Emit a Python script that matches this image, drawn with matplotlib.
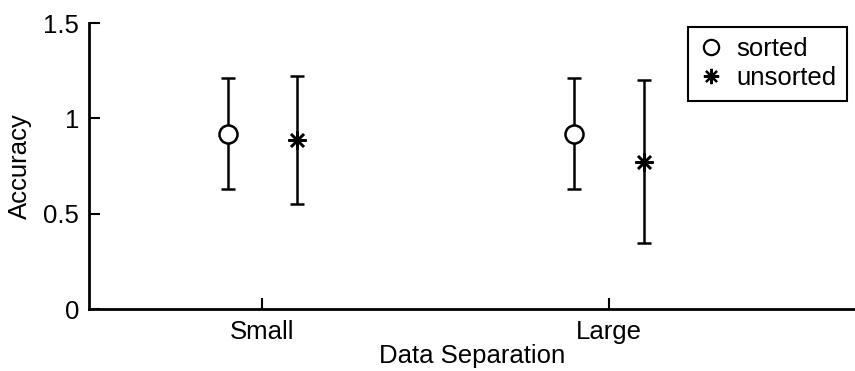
import matplotlib
matplotlib.use('Agg')

import matplotlib.pyplot as plt
from matplotlib.lines import Line2D

# Data
categories = ['Small', 'Large']
sorted_mean = [0.92, 0.92]
sorted_err = [0.29, 0.29]
unsorted_mean = [0.887, 0.772]
unsorted_err = [0.335, 0.428]

plt.rcParams['font.family'] = ['Liberation Sans', 'DejaVu Sans']
plt.rcParams['font.size'] = 18.5

fig = plt.figure(figsize=(8.55, 3.71), dpi=100)
ax = fig.add_axes([0.104, 0.167, 0.896, 0.771])

pos = [1, 2]
x_sorted = [p - 0.1 for p in pos]
x_unsorted = [p + 0.1 for p in pos]

ax.errorbar(x_sorted, sorted_mean, yerr=sorted_err, fmt='o', color='black',
            mfc='white', mec='black', ms=13, mew=1.8, elinewidth=1.8,
            capsize=5, capthick=1.8)
ax.errorbar(x_unsorted, unsorted_mean, yerr=unsorted_err, fmt='none',
            ecolor='black', elinewidth=1.8, capsize=5, capthick=1.8)
ax.plot(x_unsorted, unsorted_mean, linestyle='none', marker=(8, 2, 0),
        ms=13, mew=1.8, color='black')

ax.set_xlim(0.5, 2.709)
ax.set_ylim(0, 1.5)
ax.set_xticks(pos)
ax.set_xticklabels(categories)
ax.set_yticks([0, 0.5, 1, 1.5])
ax.set_yticklabels(['0', '0.5', '1', '1.5'])
ax.tick_params(direction='in', length=8, width=1.5, pad=7)
ax.tick_params(axis='x', pad=8)

ax.spines['top'].set_visible(False)
ax.spines['right'].set_visible(False)
ax.spines['left'].set_linewidth(2)
ax.spines['bottom'].set_linewidth(2)

ax.set_xlabel('Data Separation', labelpad=0)
ax.set_ylabel('Accuracy', labelpad=8)

handles = [
    Line2D([], [], linestyle='none', marker='o', mfc='white', mec='black',
           ms=11, mew=1.6),
    Line2D([], [], linestyle='none', marker=(8, 2, 0), color='black',
           ms=11, mew=1.6),
]
leg = ax.legend(handles, ['sorted', 'unsorted'], loc='upper right',
                bbox_to_anchor=(847 / 855, 1 - 27 / 371),
                bbox_transform=fig.transFigure, borderaxespad=0,
                fancybox=False, edgecolor='black', framealpha=1,
                handlelength=1.0, handletextpad=0.5, borderpad=0.4,
                labelspacing=0.2)
leg.get_frame().set_linewidth(1.5)

fig.savefig('out.png', dpi=100)
